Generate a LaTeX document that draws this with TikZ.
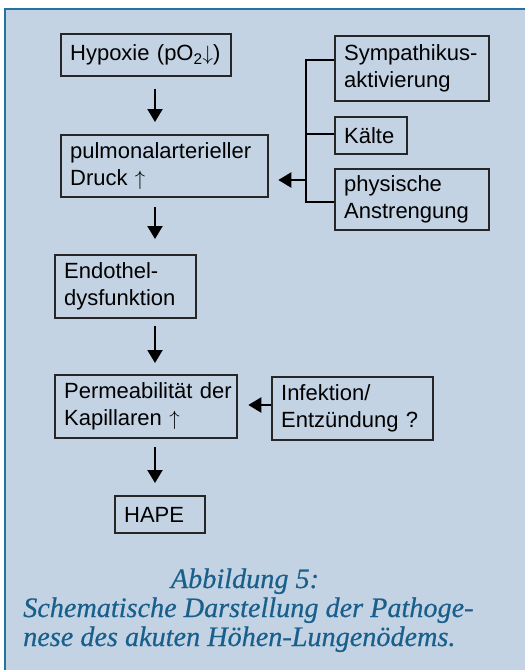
\documentclass[tikz,border=0pt]{standalone}
\usepackage{fontspec}
\setmainfont{Liberation Sans}
\newfontfamily\capfont[ItalicFeatures={FakeBold=0.5}]{Liberation Serif}
\usetikzlibrary{arrows.meta}
\usetikzlibrary{positioning}

\definecolor{bgblue}{RGB}{195,211,228}
\definecolor{bgwhite}{RGB}{246,248,251}
\definecolor{framecol}{RGB}{35,115,160}
\definecolor{captioncol}{RGB}{25,95,140}

\tikzset{
  box/.style={draw=black!85, line width=2.3pt, rectangle, anchor=north west,
    inner xsep=9pt, inner ysep=0pt, align=left,
    font=\fontsize{22}{27}\selectfont},
  flow/.style={line width=2.2pt, -{Triangle[length=13pt,width=15pt]}},
  bracket/.style={line width=2.2pt},
  captext/.style={text=captioncol, inner sep=0pt,
    font=\capfont\itshape\fontsize{28.2}{29}\selectfont}
}

\begin{document}
\begin{tikzpicture}[x=1pt,y=-1pt]
\useasboundingbox (0,0) rectangle (525,670);
%background panel
\shade[top color=bgblue, middle color=bgwhite, bottom color=bgblue](5,9) rectangle (530,675);
\draw[framecol,line width=1.5pt](530,9)--(5,9)--(5,675);

%main chain
\node[box, minimum width=170pt, minimum height=42pt, text width=152pt] (hyp) at (60,33) {Hypoxie~(pO\textsubscript{2}$\downarrow$)};
\node[box, minimum width=207pt, minimum height=62pt, text width=189pt] (pap) at (60,134) {pulmonalarterieller\\Druck~$\uparrow$};
\node[box, minimum width=141pt, minimum height=63pt, text width=123pt] (endo) at (54,254) {Endothel-\\dysfunktion};
\node[box, minimum width=182pt, minimum height=63pt, text width=164pt] (perm) at (54,374) {Permeabilit\"at~der\\Kapillaren~$\uparrow$};
\node[box, minimum width=90pt, minimum height=37pt, text width=72pt] (hape) at (114,495) {HAPE};

%side factors
\node[box, minimum width=154pt, minimum height=65pt, text width=136pt] (sym) at (334,35) {Sympathikus-\\aktivierung};
\node[box, minimum width=72pt, minimum height=37pt, text width=54pt] (kalte) at (334,116) {K\"alte};
\node[box, minimum width=154pt, minimum height=61pt, text width=136pt] (phys) at (334,168) {physische\\Anstrengung};
\node[box, minimum width=161pt, minimum height=63pt, text width=143pt] (infek) at (271,376) {Infektion/\\Entz\"undung~?};

%arrows down
\coordinate (spine) at (155,0);
\draw[flow, shorten <=12pt, shorten >=12pt] (spine|-hyp.south)--(spine|-pap.north);
\draw[flow, shorten <=9pt, shorten >=15pt] (spine|-pap.south)--(spine|-endo.north);
\draw[flow, shorten <=7pt, shorten >=11pt] (spine|-endo.south)--(spine|-perm.north);
\draw[flow, shorten <=8pt, shorten >=12pt] (spine|-perm.south)--(spine|-hape.north);

%bracket
\coordinate (bt) at (306,60);
\coordinate (bm) at (306,134);
\coordinate (bb) at (306,202);
\coordinate (bout) at (306,180);
\draw[bracket] (sym.west|-bt)--(bt)--(bb)--(phys.west|-bb);
\draw[bracket] (bm)--(kalte.west|-bm);
\draw[flow, shorten >=9pt] (bout)--(pap.east|-bout);
\coordinate (iout) at (0,405);
\draw[flow, shorten >=10pt] (infek.west|-iout)--(perm.east|-iout);

%caption
\node[captext, anchor=base] (cap1) at (245,588) {Abbildung 5:};
\node[captext, anchor=base west] (cap2) at (23,617) {Schematische Darstellung der Pathoge-};
\node[captext, anchor=base west] (cap3) at (23,646) {nese des akuten H\"ohen-Lungen\"odems.};
\end{tikzpicture}
\end{document}
